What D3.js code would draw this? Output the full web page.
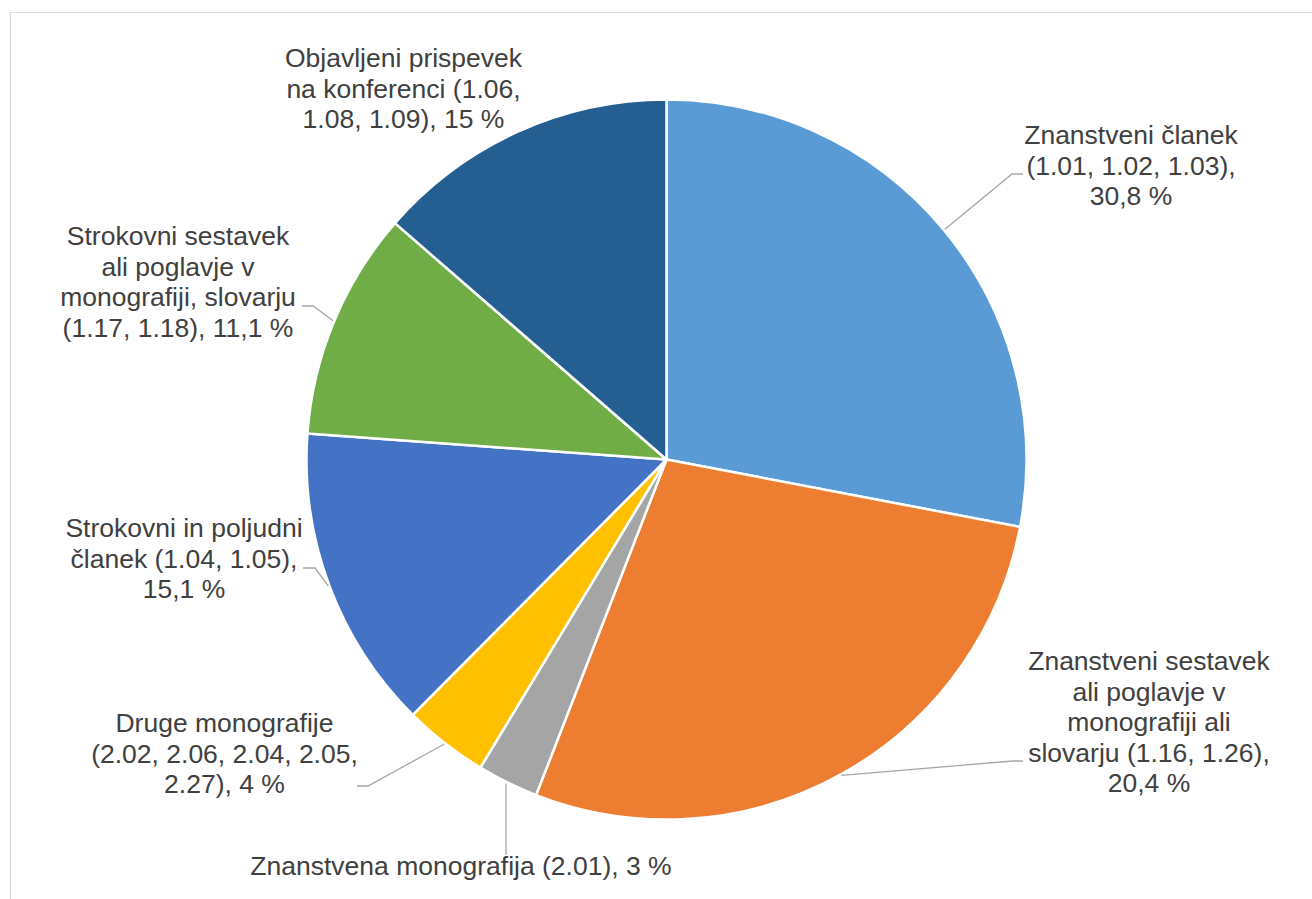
<!DOCTYPE html>
<html>
<head>
<meta charset="utf-8">
<script src="https://cdn.jsdelivr.net/npm/d3@7"></script>
<style>
  html, body { margin: 0; padding: 0; background: #fff; }
  svg { display: block; }
  text { font-family: "Liberation Sans", Arial, sans-serif; fill: #404040; }
</style>
</head>
<body>
<svg id="chart" width="1312" height="899"></svg>
<script>
// data, clockwise from 12 o'clock (slice sizes)
var categories = [
  ["Znanstveni članek", "(1.01, 1.02, 1.03),", "30,8 %"],
  ["Znanstveni sestavek", "ali poglavje v", "monografiji ali", "slovarju (1.16, 1.26),", "20,4 %"],
  ["Znanstvena monografija (2.01), 3 %"],
  ["Druge monografije", "(2.02, 2.06, 2.04, 2.05,", "2.27), 4 %"],
  ["Strokovni in poljudni", "članek (1.04, 1.05),", "15,1 %"],
  ["Strokovni sestavek", "ali poglavje v", "monografiji, slovarju", "(1.17, 1.18), 11,1 %"],
  ["Objavljeni prispevek", "na konferenci (1.06,", "1.08, 1.09), 15 %"]
];
var values = [28.0, 27.9, 2.75, 3.8, 13.7, 10.25, 13.6];
var colors = ["#5B9BD5", "#ED7D31", "#A5A5A5", "#FFC000", "#4472C4", "#70AD47", "#255E91"];

// label layout: centre x, first baseline, leader elbow and end (null = no leader)
var labelPos = [
  {x: 1131, y: 144, elbow: [1012, 174], end: [1023, 174]},
  {x: 1149, y: 670, elbow: [1013, 761], end: [1023, 761]},
  {x: 461, y: 875, elbow: null, end: [506, 855]},
  {x: 224.5, y: 732, elbow: [368, 786], end: [357, 786]},
  {x: 184, y: 537, elbow: [315, 568], end: [303, 568]},
  {x: 178, y: 245, elbow: [313, 306], end: [302, 306]},
  {x: 403.5, y: 67, elbow: null, end: null}
];

var cx = 666.5, cy = 459.5, radius = 360, lineH = 30.5;

var svg = d3.select("#chart");

// chart area frame
svg.append("rect")
  .attr("x", 10.5).attr("y", 12.5)
  .attr("width", 1400).attr("height", 1000)
  .attr("fill", "none")
  .attr("stroke", "#D9D9D9")
  .attr("stroke-width", 1);

var pie = d3.pie().sort(null).value(function(d) { return d; });
var arcs = pie(values);

var arc = d3.arc().innerRadius(0).outerRadius(radius);
var rim = d3.arc().innerRadius(radius + 1).outerRadius(radius + 1);

var g = svg.append("g").attr("transform", "translate(" + cx + "," + cy + ")");

g.selectAll("path.slice")
  .data(arcs)
  .enter()
  .append("path")
    .attr("class", "slice")
    .attr("d", arc)
    .attr("fill", function(d, i) { return colors[i]; })
    .attr("stroke", "#fff")
    .attr("stroke-width", 2.5)
    .attr("stroke-linejoin", "round");

// leader lines
arcs.forEach(function(d, i) {
  var p = labelPos[i];
  if (!p.end) return;
  var c = rim.centroid(d);
  var pts = [[cx + c[0], cy + c[1]]];
  if (p.elbow) pts.push(p.elbow);
  if (!p.elbow) pts[0][0] = p.end[0];
  pts.push(p.end);
  svg.append("path")
    .attr("d", d3.line()(pts))
    .attr("fill", "none")
    .attr("stroke", "#A6A6A6")
    .attr("stroke-width", 1.3);
});

// labels
categories.forEach(function(lines, i) {
  var p = labelPos[i];
  var t = svg.append("text")
    .attr("text-anchor", "middle")
    .attr("font-size", "26.5px");
  lines.forEach(function(s, j) {
    t.append("tspan")
      .attr("x", p.x)
      .attr("y", p.y + j * lineH)
      .text(s);
  });
});
</script>
</body>
</html>
